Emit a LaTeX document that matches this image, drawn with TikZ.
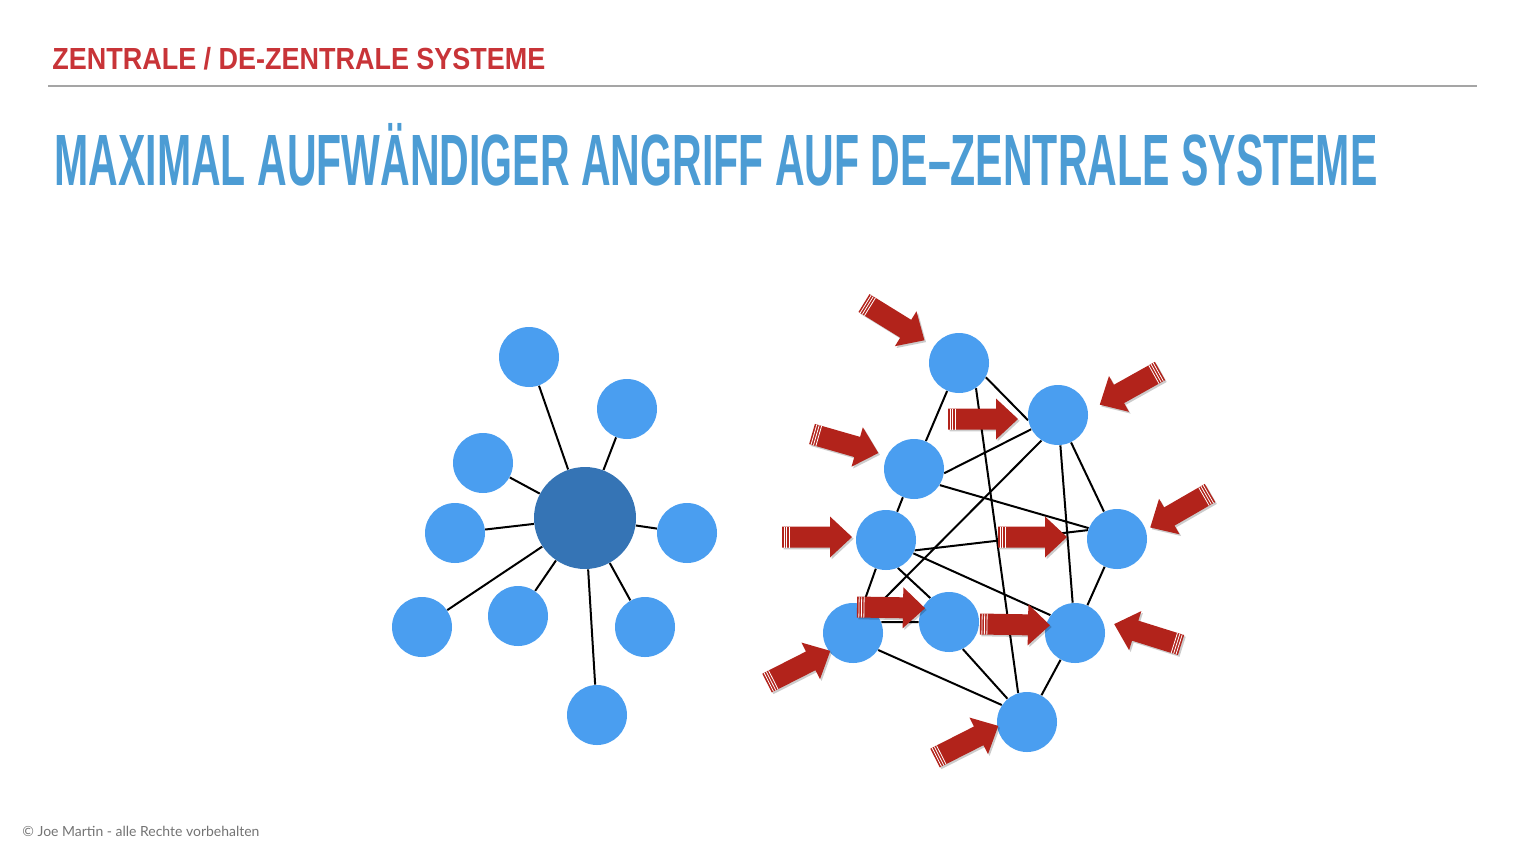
\documentclass[tikz,border=0pt]{standalone}
\usepackage{graphicx}
\usepackage{fontspec}
\usetikzlibrary{backgrounds}
\newfontfamily\headfont{Liberation Sans}
\newfontfamily\footfont{Lato}
\definecolor{nodeblue}{RGB}{74,158,240}
\definecolor{hubblue}{RGB}{53,116,181}
\definecolor{arrowred}{RGB}{178,35,27}
\definecolor{titleblue}{RGB}{76,156,212}
\definecolor{headred}{RGB}{200,52,56}
\definecolor{rulegray}{RGB}{165,165,165}
\definecolor{footgray}{RGB}{115,115,115}
\newcommand\capfit[3]{\resizebox{#1}{#2}{\raisebox{0pt}[\fontcharht\font`H][0pt]{#3}}}
\newcommand\attack[4]{%
  \begin{scope}[shift={(#1,#2)}]
    \begin{scope}[xshift=0.8pt,yshift=-0.9pt,rotate=#3]
      \fill[black,opacity=0.2] (0,-10.5) -- ({#4-22},-10.5) -- ({#4-22},-20.5) -- (#4,0) -- ({#4-22},20.5) -- ({#4-22},10.5) -- (0,10.5) -- cycle;
    \end{scope}
    \begin{scope}[rotate=#3]
      \fill[arrowred] (0,-10.5) -- ({#4-22},-10.5) -- ({#4-22},-20.5) -- (#4,0) -- ({#4-22},20.5) -- ({#4-22},10.5) -- (0,10.5) -- cycle;
      \draw[white,line width=0.4pt] (2,-10.5) -- (2,10.5) (4.5,-10.5) -- (4.5,10.5) (7,-10.5) -- (7,10.5);
    \end{scope}
  \end{scope}}
\tikzset{
  sat/.style={circle, fill=nodeblue, minimum size=30pt, inner sep=0pt},
  hub/.style={circle, fill=hubblue, minimum size=51pt, inner sep=0pt},
  link/.style={line width=1pt, black},
  txt/.style={inner sep=0pt, anchor=base west}
}
\begin{document}
\begin{tikzpicture}[x=0.5pt,y=-0.5pt]
\useasboundingbox (0,0) rectangle (1524,857);
% header
\node[txt, text=headred] (head) at (52,69) {\headfont\bfseries\capfit{246.5pt}{10.5pt}{ZENTRALE / DE-ZENTRALE SYSTEME}};
\draw[rulegray, line width=0.75pt] (48,86) -- (1477,86);
\node[txt, text=titleblue] (title) at (54,185) {\headfont\bfseries\capfit{661.5pt}{25pt}{MAXIMAL AUFWÄNDIGER ANGRIFF AUF DE–ZENTRALE SYSTEME}};
\node[txt, text=footgray] (foot) at (22,836) {\footfont\resizebox{118.5pt}{!}{© Joe Martin - alle Rechte vorbehalten}};
% central network
\node[hub] (hub) at (585,518) {};
\node[sat] (s1) at (529,357) {};
\node[sat] (s2) at (627,409) {};
\node[sat] (s3) at (483,463) {};
\node[sat] (s4) at (455,533) {};
\node[sat] (s5) at (687,533) {};
\node[sat] (s6) at (422,627) {};
\node[sat] (s7) at (518,616) {};
\node[sat] (s8) at (645,627) {};
\node[sat] (s9) at (597,715) {};
% decentral network
\node[sat] (A) at (959,363) {};
\node[sat] (B) at (1058,415) {};
\node[sat] (C) at (914,469) {};
\node[sat] (D) at (886,540) {};
\node[sat] (E) at (1117,539) {};
\node[sat] (F) at (853,633) {};
\node[sat] (G) at (949,622) {};
\node[sat] (H) at (1075,633) {};
\node[sat] (I) at (1027,722) {};
\begin{scope}[on background layer]
  \foreach \s in {s1,s2,s3,s4,s5,s6,s7,s8,s9} \draw[link] (hub) -- (\s);
  \draw[link] (A.-28) -- (B.-170);
  \draw[link] (A) -- (C);
  \draw[link] (A.-56) -- (I.107);
  \draw[link] (B.-152) -- (C.-8);
  \draw[link] (B.-123) -- (F.49);
  \draw[link] (B) -- (H);
  \draw[link] (B) -- (E);
  \draw[link] (C) -- (D);
  \draw[link] (C.-32) -- (E.159);
  \draw[link] (D.-20) -- (E.163);
  \draw[link] (D) -- (F);
  \draw[link] (D.-67) -- (G.128);
  \draw[link] (D.-26) -- (H.144);
  \draw[link] (F.21) -- (G.180);
  \draw[link] (F.-34) -- (I.146);
  \draw[link] (G.-63) -- (I.130);
  \draw[link] (H) -- (E);
  \draw[link] (H) -- (I);
\end{scope}
% attack arrows
\attack{864}{303}{-31.7}{71}
\attack{1160}{371}{-150.8}{69}
\attack{948}{419}{0}{70}
\attack{812}{434}{-16}{69}
\attack{1210}{493}{-150}{69}
\attack{782}{537}{0}{70}
\attack{998}{537}{0}{69}
\attack{857}{607}{-1}{68}
\attack{980}{624}{-1}{70}
\attack{1181}{645}{162.6}{70}
\attack{767}{683}{26.9}{71}
\attack{935}{758}{26.9}{71}
\end{tikzpicture}
\end{document}
